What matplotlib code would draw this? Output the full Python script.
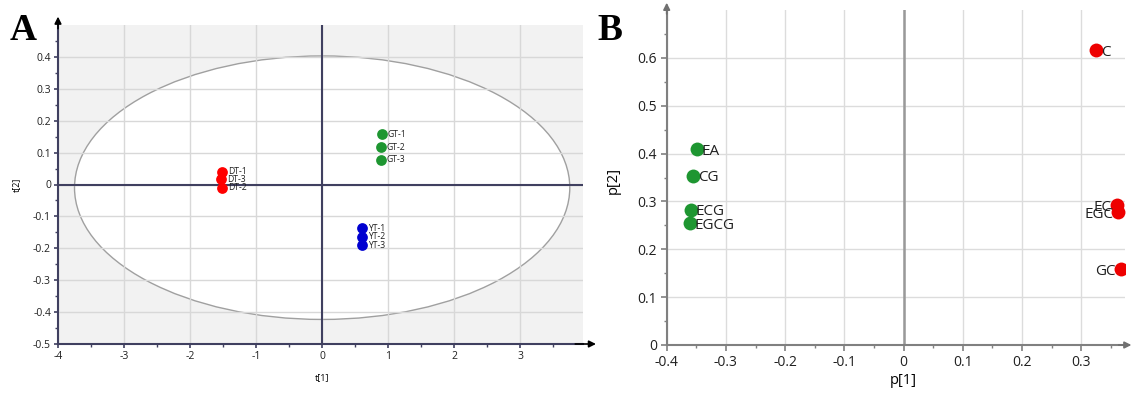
import matplotlib
matplotlib.use("Agg")
import matplotlib.pyplot as plt
from matplotlib.patches import Ellipse
import numpy as np

plt.rcParams['font.family'] = ['Open Sans', 'DejaVu Sans']

# ---- Panel A: scores ----
score_names = ["DT-1", "DT-3", "DT-2", "GT-1", "GT-2", "GT-3", "YT-1", "YT-2", "YT-3"]
score_t1 = [-1.52, -1.53, -1.52, 0.90, 0.89, 0.89, 0.61, 0.60, 0.60]
score_t2 = [0.040, 0.016, -0.010, 0.157, 0.116, 0.078, -0.137, -0.164, -0.191]
score_group = ["DT", "DT", "DT", "GT", "GT", "GT", "YT", "YT", "YT"]
group_colors = {"DT": "#ff0000", "GT": "#1e9631", "YT": "#0000d0"}
ellipse_center = (0.0, -0.01)
ellipse_semi = (3.75, 0.413)

# ---- Panel B: loadings ----
load_names = ["EA", "CG", "ECG", "EGCG", "C", "EC", "EGC", "GC"]
load_p1 = [-0.349, -0.355, -0.359, -0.361, 0.325, 0.360, 0.362, 0.367]
load_p2 = [0.409, 0.354, 0.283, 0.255, 0.617, 0.292, 0.278, 0.158]
load_colors = ["#1e9631"] * 4 + ["#ee0000"] * 4

W, H = 1132, 395
fig = plt.figure(figsize=(W / 100, H / 100), dpi=100)

# ================= Panel A =================
axA = fig.add_axes([58 / W, 1 - 344 / H, (583 - 58) / W, (344 - 25) / H])
axA.set_xlim(-4, 3.95)
axA.set_ylim(-0.5, 0.5)
axA.set_facecolor("#f2f2f2")
axA.set_axisbelow(True)
ell = Ellipse(ellipse_center, 2 * ellipse_semi[0], 2 * ellipse_semi[1],
              facecolor="white", edgecolor="#a0a0a0", lw=1.0, zorder=0.2)
axA.add_patch(ell)
axA.set_xticks(np.arange(-4, 4, 1))
axA.set_yticks(np.round(np.arange(-0.5, 0.41, 0.1), 2))
axA.set_xticks(np.arange(-3.5, 3.6, 1.0), minor=True)
axA.set_yticks(np.round(np.arange(-0.45, 0.46, 0.1), 2), minor=True)
axA.set_xticklabels([str(v) for v in range(-4, 4)])
axA.set_yticklabels(["-0.5", "-0.4", "-0.3", "-0.2", "-0.1", "0", "0.1", "0.2", "0.3", "0.4"])
axA.grid(True, which="major", color="#d8d8d8", lw=1.0)
navy = "#404060"
for s in ["top", "right"]:
    axA.spines[s].set_visible(False)
for s in ["left", "bottom"]:
    axA.spines[s].set_color(navy)
    axA.spines[s].set_linewidth(1.5)
axA.tick_params(which="major", length=3, width=1.2, color=navy, labelsize=7.5, labelcolor="#202020", pad=2)
axA.tick_params(which="minor", length=2, width=1.0, color=navy)
axA.axhline(0, color=navy, lw=1.5, zorder=1)
axA.axvline(0, color=navy, lw=1.5, zorder=1)
# arrows
axA.annotate("", xy=(0, 1.035), xytext=(0, 0.98), xycoords="axes fraction",
             arrowprops=dict(arrowstyle="-|>", color="black", lw=1.2, mutation_scale=10), annotation_clip=False)
axA.annotate("", xy=(1.03, 0), xytext=(0.98, 0), xycoords="axes fraction",
             arrowprops=dict(arrowstyle="-|>", color="black", lw=1.2, mutation_scale=10), annotation_clip=False)
for n, x, y, g in zip(score_names, score_t1, score_t2, score_group):
    axA.scatter(x, y, s=60, color=group_colors[g], zorder=3, linewidths=0)
    axA.text(x + 0.09, y, n, fontsize=6.2, va="center", ha="left", color="#202020", zorder=4)
axA.set_xlabel("t[1]", fontsize=6.5, labelpad=3)
axA.xaxis.set_label_coords(4 / 7.95, -0.09)
axA.set_ylabel("t[2]", fontsize=6.5)
axA.yaxis.set_label_coords(-0.07, 0.5)
fig.text(10 / W, 1 - 30 / H, "A", fontsize=27, fontweight="bold", family="Liberation Serif",
         va="center", ha="left")

# ================= Panel B =================
axB = fig.add_axes([666.7 / W, 1 - 345 / H, (1125 - 666.7) / W, (345 - 10) / H])
axB.set_xlim(-0.4, 0.374)
axB.set_ylim(0, 0.7)
axB.set_facecolor("white")
axB.set_axisbelow(True)
axB.set_xticks(np.round(np.arange(-0.4, 0.31, 0.1), 2))
axB.set_xticklabels(["-0.4", "-0.3", "-0.2", "-0.1", "0", "0.1", "0.2", "0.3"])
axB.set_yticks(np.round(np.arange(0, 0.61, 0.1), 2))
axB.set_yticklabels(["0", "0.1", "0.2", "0.3", "0.4", "0.5", "0.6"])
axB.set_xticks(np.round(np.arange(-0.35, 0.36, 0.1), 3), minor=True)
axB.set_yticks(np.round(np.arange(0.05, 0.66, 0.1), 3), minor=True)
axB.grid(True, which="major", color="#dcdcdc", lw=1.0)
gray = "#808080"
for s in ["top", "right"]:
    axB.spines[s].set_visible(False)
for s in ["left", "bottom"]:
    axB.spines[s].set_color(gray)
    axB.spines[s].set_linewidth(1.5)
axB.tick_params(which="major", length=4, width=1.2, color=gray, labelsize=10, labelcolor="#202020", pad=3)
axB.tick_params(which="minor", length=2.5, width=1.0, color=gray)
axB.axvline(0, color="#999999", lw=1.8, zorder=1)
axB.annotate("", xy=(0, 1.03), xytext=(0, 0.98), xycoords="axes fraction",
             arrowprops=dict(arrowstyle="-|>", color="#707070", lw=1.2, mutation_scale=10), annotation_clip=False)
axB.annotate("", xy=(1.02, 0), xytext=(0.98, 0), xycoords="axes fraction",
             arrowprops=dict(arrowstyle="-|>", color="#707070", lw=1.2, mutation_scale=10), annotation_clip=False)
for n, x, y, c in zip(load_names, load_p1, load_p2, load_colors):
    axB.scatter(x, y, s=100, color=c, zorder=3, linewidths=0)
    if n in ("EC", "EGC", "GC"):
        axB.text(x - 0.008, y - 0.005, n, fontsize=11, va="center", ha="right", color="#202020", zorder=4)
    else:
        axB.text(x + 0.008, y - 0.005, n, fontsize=11, va="center", ha="left", color="#202020", zorder=4)
axB.set_xlabel("p[1]", fontsize=10.5)
axB.xaxis.set_label_coords(0.4 / 0.774, -0.085)
axB.xaxis.label.set_va("top")
axB.set_ylabel("p[2]", fontsize=10.5)
axB.yaxis.set_label_coords(-0.1, 0.49)
fig.text(597 / W, 1 - 30 / H, "B", fontsize=27, fontweight="bold", family="Liberation Serif",
         va="center", ha="left")

fig.savefig("out.png", dpi=100)
